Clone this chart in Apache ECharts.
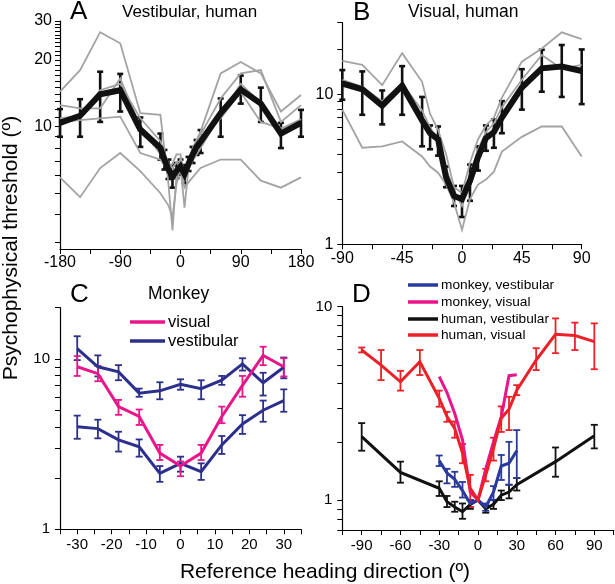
<!DOCTYPE html>
<html><head><meta charset="utf-8">
<script src="https://cdn.jsdelivr.net/npm/echarts@6/dist/echarts.min.js"></script>
<style>html,body{margin:0;padding:0;background:#fff}#c{width:615px;height:584px}</style>
</head><body><div id="c"></div>
<script>
const FONT = '"Liberation Sans", Arial, Helvetica, sans-serif';

// ---------- Panel A : Vestibular, human ----------
const aX     = [-180,-150,-120,-90,-60,-30,-24,-18,-12,-6,0,6,12,18,24,30,60,90,120,150,180];
const aMean  = [10.4,11.2,14.0,14.6,9.7,8.0,7.1,6.4,5.95,6.3,6.6,6.1,6.8,7.45,8.1,8.55,11.5,14.7,12.7,9.3,10.4];
const aLo    = [9.0,9.0,10.5,11.7,8.1,7.1,6.4,5.8,5.3,5.85,6.05,5.55,6.3,6.85,7.45,7.6,9.0,12.7,10.5,8.0,9.0];
const aHi    = [12.0,13.3,17.7,17.3,11.0,9.3,7.85,7.1,6.7,6.85,7.1,6.7,7.3,8.1,8.7,9.65,13.4,17.0,15.0,10.4,11.9];
const aGX    = [-180,-150,-120,-90,-60,-30,-18,-12,-6,0,6,12,18,30,60,90,120,150,180];
const aG1    = [14.4,18.0,26.7,23.8,11.5,11.3,5.5,3.4,6.0,7.2,6.2,7.0,8.0,9.5,17.4,19.6,17.4,11.7,13.9];
const aG2    = [12.5,12.1,12.1,16.5,10.0,7.5,6.5,6.8,7.5,7.5,5.8,6.5,7.5,9.2,13.4,17.4,18.0,10.5,12.5];
const aG3    = [10.5,10.7,10.9,11.1,7.6,7.1,6.3,6.4,6.4,6.9,6.0,6.4,7.0,8.0,11.3,15.6,12.8,9.8,10.8];
const aG4    = [10.9,11.2,14.6,15.6,10.9,8.6,6.8,6.5,6.9,6.6,4.3,6.5,7.8,9.0,10.9,14.3,10.5,9.8,10.3];
const aG5    = [5.9,4.8,6.5,7.6,6.3,5.0,4.4,3.9,5.5,6.6,5.3,5.6,5.9,6.5,7.1,7.1,5.7,5.3,5.9];

// ---------- Panel B : Visual, human ----------
const bX     = [-90,-75,-60,-45,-30,-24,-18,-12,-6,0,6,12,18,24,30,45,60,75,90];
const bMean  = [11.8,10.8,8.4,11.4,6.7,5.5,5.0,2.8,2.1,2.0,2.65,3.8,5.1,5.6,7.0,11.1,14.9,15.3,14.3];
const bLo    = [9.2,7.3,6.3,7.3,4.5,4.3,3.9,2.4,1.8,1.52,1.95,3.1,4.2,4.4,5.5,7.9,10.4,9.6,8.6];
const bHi    = [14.5,14.2,10.6,15.4,9.6,6.2,6.1,3.3,2.45,2.45,3.4,4.5,6.2,6.8,9.0,14.7,19.8,21.3,19.9];
const bG1    = [16.7,15.7,11.5,18.8,12.1,7.4,5.8,4.0,2.4,2.2,3.5,5.0,6.2,7.0,9.5,16.5,20.2,25.9,23.3];
const bG2    = [12.5,11.2,9.0,11.8,7.8,6.0,5.0,3.2,2.3,1.8,2.9,4.3,5.6,6.4,8.2,12.5,18.3,14.8,15.7];
const bG3    = [7.9,4.4,4.5,4.85,3.85,3.3,3.0,2.5,1.9,1.25,2.0,2.5,2.7,3.05,4.15,5.2,6.1,6.1,3.85];

// ---------- Panel C : Monkey ----------
const cX       = [-30,-24,-18,-12,-6,0,6,12,18,24,30];
const cVis     = [9.0,8.2,5.25,4.6,2.8,2.35,2.8,4.6,7.0,10.5,9.0];
const cVisLo   = [7.95,7.4,4.7,4.1,2.55,2.05,2.55,4.2,6.0,9.2,7.9];
const cVisHi   = [10.4,9.1,5.75,5.05,3.13,2.5,3.13,5.25,7.95,11.8,10.1];
const cVesA    = [11.5,9.0,8.4,6.3,6.5,7.1,6.7,7.5,9.35,7.25,8.95];
const cVesALo  = [9.85,7.9,7.5,6.0,5.8,6.6,5.8,7.05,8.55,6.1,7.7];
const cVesAHi  = [13.6,10.5,9.2,6.7,7.3,7.6,7.5,7.95,10.1,8.3,10.2];
const cVesB    = [4.0,3.9,3.35,3.05,2.13,2.44,2.18,3.13,4.15,5.0,5.7];
const cVesBLo  = [3.4,3.42,2.86,2.67,1.9,2.18,1.95,2.77,3.63,4.28,4.9];
const cVesBHi  = [4.65,4.4,3.74,3.37,2.35,2.67,2.44,3.53,4.68,5.7,6.63];

// ---------- Panel D : normalized ----------
const dHumVisX  = [-90,-75,-60,-45,-30,-24,-18,-12,-6,0,6,12,18,24,30,45,60,75,90];
const dHumVis   = [5.97,4.99,4.09,5.19,3.36,2.7,2.35,1.75,1.15,1.0,1.35,1.85,2.65,2.95,3.7,5.3,7.2,7.1,6.6];
const dHumVisLo = [5.8,4.17,3.68,4.43,3.04,2.54,2.1,1.55,0.92,null,1.25,1.6,2.25,2.3,3.49,4.7,5.75,5.97,4.75];
const dHumVisHi = [6.15,5.97,4.66,5.97,3.68,2.86,2.55,1.95,1.35,null,1.45,2.1,3.05,3.42,3.93,6.1,8.7,8.27,8.2];
const dMonX     = [-30,-24,-18,-12,-6,0,6,12,18,24,30];
const dMonVis   = [4.35,3.6,2.8,2.05,1.1,1.0,1.45,2.0,2.7,4.4,4.45];
const dMonVes   = [1.6,1.38,1.28,1.12,0.96,1.0,0.92,1.1,1.5,1.55,1.8];
const dMonVesLo = [1.5,1.22,1.17,1.03,0.92,null,0.88,1.0,1.27,1.2,1.3];
const dMonVesHi = [1.7,1.45,1.4,1.24,1.0,null,0.96,1.18,1.71,2.0,2.3];
const dHumVesX  = [-90,-60,-30,-24,-18,-12,-6,0,6,12,18,24,30,60,90];
const dHumVes   = [2.13,1.39,1.15,0.98,0.92,0.87,0.95,1.0,0.9,0.95,1.06,1.1,1.2,1.58,2.15];
const dHumVesLo = [1.8,1.23,1.05,0.92,0.87,0.8,0.9,null,0.86,0.9,1.0,1.02,1.12,1.32,1.85];
const dHumVesHi = [2.5,1.58,1.25,1.05,0.98,0.96,1.0,null,0.94,1.0,1.12,1.2,1.3,1.87,2.45];

// ---------- tick values ----------
const aXLabels = [-180,-90,0,90,180], aXMinor = [-135,-45,45,135];
const bXLabels = [-90,-45,0,45,90],   bXMinor = [-67.5,-22.5,22.5,67.5];
const cXLabels = [-30,-20,-10,0,10,20,30], cXMinor = [-35,-25,-15,-5,5,15,25,35];
const dXLabels = [-90,-60,-30,0,30,60,90], dXMinor = [-105,-75,-45,-15,15,45,75,105];
const aYLabels = [10,20,30], aYMinor = [3,4,5,6,7,8,9,11,12,13,14,15,16,17,18,19,21,22,23,24,25,26,27,28,29];
const bYLabels = [1,10], bYMinor = [2,3,4,5,6,7,8,9,20,30];
const cYLabels = [1,10], cYMinor = [2,3,4,5,6,7,8,9,20];
const dYLabels = [1,10], dYMinor = [0.7,0.8,0.9,2,3,4,5,6,7,8,9];

// ---------- colours ----------
const BLACK = '#111111', GRAY = '#a3a3a3', NAVY = '#2c2f8c', PINK = '#e8168a', RED = '#ea2228', BLUE = '#2a3a9e';

const grids = [
  {left:60,    top:21,    width:241,   height:228},
  {left:342.3, top:22.7,  width:239.4, height:221.6},
  {left:60,    top:307.7, width:241,   height:221.6},
  {left:342.3, top:306.7, width:271.4, height:223.3}
];
const ranges = [  // [xMin, xMax, yMin, yMax]
  [-180,180,2.8,30], [-90,90,1,30], [-35,35,1,20], [-105,105,0.7,10]
];

function mkAxis(gi, type, min, max, labels, minors, fs, margin) {
  const all = labels.concat(minors).sort((p, q) => p - q);
  return {gridIndex:gi, type, min, max, splitLine:{show:false},
    axisLine:{show:true, onZero:false, lineStyle:{color:'#000', width:1.2}},
    axisTick:{show:true, length:5, customValues:all, lineStyle:{color:'#000'}},
    axisLabel:{customValues:labels, color:'#000', fontSize:fs, fontFamily:FONT, margin:margin}
  };
}
const xAxis = [
  mkAxis(0,'value',ranges[0][0],ranges[0][1],aXLabels,aXMinor,16,6),
  mkAxis(1,'value',ranges[1][0],ranges[1][1],bXLabels,bXMinor,16,6),
  mkAxis(2,'value',ranges[2][0],ranges[2][1],cXLabels,cXMinor,15,8),
  mkAxis(3,'value',ranges[3][0],ranges[3][1],dXLabels,dXMinor,15,8)
];
const yAxis = [
  mkAxis(0,'log',ranges[0][2],ranges[0][3],aYLabels,aYMinor,16,8),
  mkAxis(1,'log',ranges[1][2],ranges[1][3],bYLabels,bYMinor,16,9),
  mkAxis(2,'log',ranges[2][2],ranges[2][3],cYLabels,cYMinor,15,10),
  mkAxis(3,'log',ranges[3][2],ranges[3][3],dYLabels,dYMinor,15,10)
];

function pairs(xs, ys){ return xs.map((x,i)=>[x, ys[i]]); }
function bars(xs, lo, hi){ const r=[]; xs.forEach((x,i)=>{ if(lo[i]!=null && hi[i]!=null) r.push([x, lo[i], hi[i]]); }); return r; }
function line(gi, xs, ys, color, width) {
  return {type:'line', xAxisIndex:gi, yAxisIndex:gi, data:pairs(xs,ys), symbol:'none', silent:true,
          lineStyle:{color, width, join:'miter'}, animation:false};
}
function err(gi, xs, lo, hi, color, lw, cap) {
  return {type:'custom', xAxisIndex:gi, yAxisIndex:gi, data:bars(xs,lo,hi), encode:{x:0, y:[1,2]}, silent:true, animation:false,
    renderItem:(p, api)=>{
      const x = api.value(0);
      const a = api.coord([x, api.value(2)]), b = api.coord([x, api.value(1)]);
      const st = {stroke:color, lineWidth:lw, fill:null};
      return {type:'group', children:[
        {type:'line', shape:{x1:a[0], y1:a[1], x2:b[0], y2:b[1]}, style:st},
        {type:'line', shape:{x1:a[0]-cap, y1:a[1], x2:a[0]+cap, y2:a[1]}, style:st},
        {type:'line', shape:{x1:b[0]-cap, y1:b[1], x2:b[0]+cap, y2:b[1]}, style:st}
      ]};
    }};
}

const series = [
  // A
  line(0,aGX,aG1,GRAY,1.8), line(0,aGX,aG2,GRAY,1.8), line(0,aGX,aG3,GRAY,1.8), line(0,aGX,aG4,GRAY,1.8), line(0,aGX,aG5,GRAY,1.8),
  line(0,aX,aMean,BLACK,6), err(0,aX,aLo,aHi,BLACK,2.6,3),
  // B
  line(1,bX,bG1,GRAY,1.8), line(1,bX,bG2,GRAY,1.8), line(1,bX,bG3,GRAY,1.8),
  line(1,bX,bMean,BLACK,6), err(1,bX,bLo,bHi,BLACK,2.6,3),
  // C
  line(2,cX,cVesA,NAVY,3), err(2,cX,cVesALo,cVesAHi,NAVY,1.8,3.5),
  line(2,cX,cVesB,NAVY,3), err(2,cX,cVesBLo,cVesBHi,NAVY,1.8,3.5),
  line(2,cX,cVis,PINK,3), err(2,cX,cVisLo,cVisHi,PINK,1.8,3.5),
  // D
  line(3,dHumVesX,dHumVes,BLACK,3), err(3,dHumVesX,dHumVesLo,dHumVesHi,BLACK,1.8,3.5),
  line(3,dMonX,dMonVes,BLUE,3), err(3,dMonX,dMonVesLo,dMonVesHi,BLUE,1.8,3.5),
  line(3,dMonX,dMonVis,PINK,3),
  line(3,dHumVisX,dHumVis,RED,3), err(3,dHumVisX,dHumVisLo,dHumVisHi,RED,1.8,3.5)
];

function txt(text, x, y, size, opts) {
  return Object.assign({type:'text', x, y, silent:true, style:{text, fill:'#000', font:size+'px '+FONT, align:'left', verticalAlign:'middle'}}, opts||{});
}
function legLine(x1, x2, y, color) {
  return {type:'line', silent:true, shape:{x1, y1:y, x2, y2:y}, style:{stroke:color, lineWidth:3.5}};
}
const graphic = [
  txt('A', 70, 12, 26), txt('Vestibular, human', 122, 12, 17),
  txt('B', 353, 13, 26), txt('Visual, human', 408, 12, 17.5),
  txt('C', 70, 295, 26), txt('Monkey', 148, 294, 17.5),
  txt('D', 352, 295, 26),
  {type:'text', x:11, y:248, rotation:Math.PI/2, silent:true,
   style:{text:'Psychophysical threshold (º)', fill:'#000', font:'21px '+FONT, align:'center', verticalAlign:'middle'}},
  {type:'text', x:325, y:572, silent:true,
   style:{text:'Reference heading direction (º)', fill:'#000', font:'21px '+FONT, align:'center', verticalAlign:'middle'}},
  legLine(130,165,322,PINK), txt('visual', 168, 322, 16.5),
  legLine(130,165,341,NAVY), txt('vestibular', 168, 341, 16.5),
  legLine(408,438,285,BLUE),  txt('monkey, vestibular', 441, 285, 13.7),
  legLine(408,438,302,PINK),  txt('monkey, visual', 441, 302, 13.7),
  legLine(408,438,319,BLACK), txt('human, vestibular', 441, 319, 13.7),
  legLine(408,438,335,RED),   txt('human, visual', 441, 335, 13.7)
];

const chart = echarts.init(document.getElementById('c'), null, {renderer:'canvas'});
chart.setOption({animation:false, backgroundColor:'#fff', grid:grids, xAxis, yAxis, series, graphic});
</script></body></html>
